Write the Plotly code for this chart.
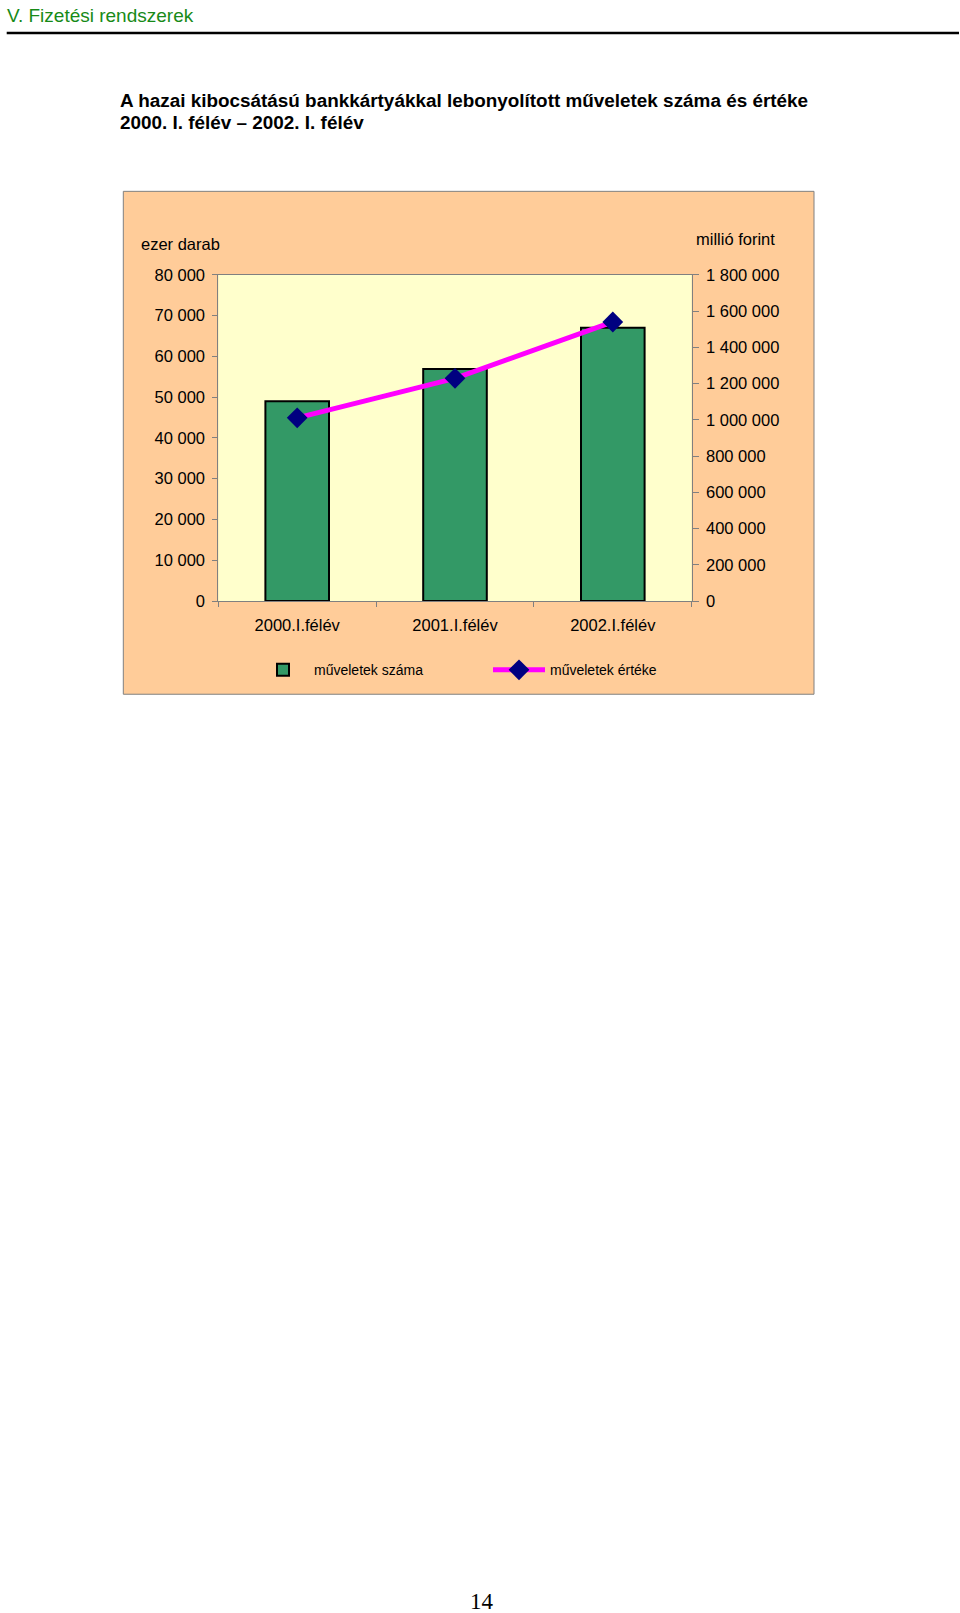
import plotly.graph_objects as go

# ---- data ----
categories = ["2000.I.félév", "2001.I.félév", "2002.I.félév"]
muveletek_szama = [49000, 56900, 67000]          # ezer darab (left axis)
muveletek_erteke = [1011000, 1229000, 1540000]   # millió forint (right axis)
left_ticks = [0, 10000, 20000, 30000, 40000, 50000, 60000, 70000, 80000]
right_ticks = [0, 200000, 400000, 600000, 800000, 1000000, 1200000, 1400000, 1600000, 1800000]

W, H = 960, 1613
FONT = "Liberation Sans, Arial, sans-serif"

def px(x):
    return x / W

def py(y):
    # page y (px from top) -> paper fraction, with small vertical calibration
    yi = (y - 8.23) / 0.9896
    return 1 - yi / H

fig = go.Figure()

fig.add_trace(go.Bar(
    x=categories, y=muveletek_szama, name="műveletek száma",
    marker=dict(color="#339966", line=dict(color="black", width=2)),
    yaxis="y",
))
fig.add_trace(go.Scatter(
    x=categories, y=muveletek_erteke, name="műveletek értéke",
    mode="lines+markers",
    line=dict(color="#FF00FF", width=5),
    marker=dict(symbol="diamond", color="#000080", size=16),
    yaxis="y2",
))

fig.update_layout(
    width=W, height=H,
    margin=dict(l=0, r=0, t=0, b=0),
    paper_bgcolor="white",
    plot_bgcolor="rgba(0,0,0,0)",
    separators=", ",
    font=dict(family=FONT, size=16, color="black"),
    bargap=0.597,
    showlegend=True,
    legend=dict(
        orientation="h", x=px(252), y=py(670), xanchor="left", yanchor="middle",
        bgcolor="rgba(0,0,0,0)", font=dict(size=14, family=FONT),
        itemwidth=52, entrywidth=169, entrywidthmode="pixels",
        traceorder="normal",
    ),
    xaxis=dict(
        domain=[px(218.3), px(691.7)], type="category",
        showline=True, linecolor="#808080", linewidth=1, mirror=True,
        ticks="outside", tickson="boundaries", ticklen=5, tickcolor="#808080",
        showgrid=False, zeroline=False, ticklabelstandoff=9,
        tickfont=dict(size=16.5),
    ),
    yaxis=dict(
        domain=[py(600.7), py(274.3)], range=[0, 80000],
        tickvals=left_ticks, tickformat=",d",
        showline=True, linecolor="#808080", linewidth=1, mirror=True,
        ticks="outside", ticklen=5, tickcolor="#808080",
        showgrid=False, zeroline=False, tickfont=dict(size=16.5),
        ticklabelstandoff=4,
    ),
    yaxis2=dict(
        overlaying="y", side="right", range=[0, 1800000],
        tickvals=right_ticks, tickformat=",d",
        showline=True, linecolor="#808080", linewidth=1,
        ticks="outside", ticklen=6, tickcolor="#808080",
        showgrid=False, zeroline=False, tickfont=dict(size=16.5),
        ticklabelstandoff=4,
    ),
)

shapes = [
    # chart frame
    dict(type="rect", xref="paper", yref="paper", layer="below",
         x0=px(123.3), x1=px(814), y0=py(694), y1=py(190.7),
         fillcolor="#FFCC99", line=dict(color="#808080", width=1)),
    # plot area background
    dict(type="rect", xref="x domain", yref="y domain", layer="below",
         x0=0, x1=1, y0=0, y1=1, fillcolor="#FFFFCC", line=dict(width=0)),
    # header rule
    dict(type="line", xref="paper", yref="paper",
         x0=px(6.7), x1=px(959), y0=py(32.3), y1=py(32.3),
         line=dict(color="black", width=2.5)),
]
fig.update_layout(shapes=shapes)

annotations = [
    dict(text="V. Fizetési rendszerek", x=px(4.5), y=py(15), xanchor="left", yanchor="middle",
         font=dict(size=19, color="#178A17", family=FONT)),
    dict(text="<b>A hazai kibocsátású bankkártyákkal lebonyolított műveletek száma és értéke</b>",
         x=px(118), y=py(99.5), xanchor="left", yanchor="middle", align="left",
         font=dict(size=18.9, color="black", family=FONT)),
    dict(text="<b>2000. I. félév – 2002. I. félév</b>",
         x=px(118), y=py(121.5), xanchor="left", yanchor="middle", align="left",
         font=dict(size=18.9, color="black", family=FONT)),
    dict(text="ezer darab", x=px(180.8), y=py(243.5), xanchor="center", yanchor="middle",
         font=dict(size=16.5, family=FONT)),
    dict(text="millió forint", x=px(735), y=py(238.3), xanchor="center", yanchor="middle",
         font=dict(size=16.5, family=FONT)),
    dict(text="14", x=px(481.5), y=py(1601.5), xanchor="center", yanchor="middle",
         font=dict(size=23, family="Liberation Serif, Times New Roman, serif")),
]
for a in annotations:
    a.update(xref="paper", yref="paper", showarrow=False)
fig.update_layout(annotations=annotations)

fig.write_html("out.html")
